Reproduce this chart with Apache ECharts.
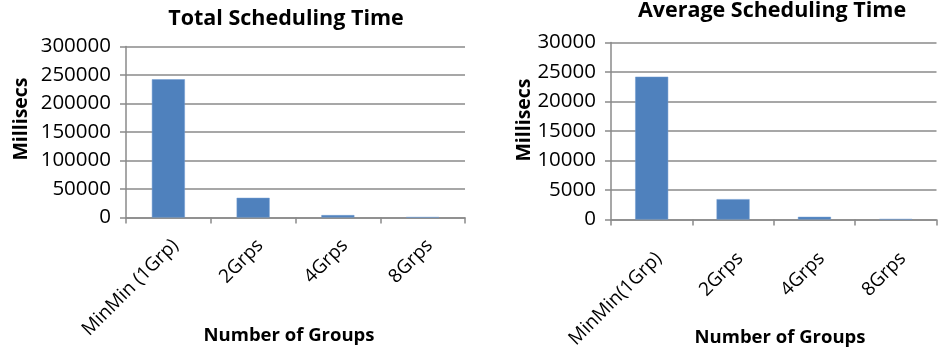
<!DOCTYPE html>
<html>
<head>
<meta charset="utf-8">
<script src="https://cdn.jsdelivr.net/npm/echarts@6/dist/echarts.min.js"></script>
<style>
  html, body { margin: 0; padding: 0; background: #ffffff; }
  #chart { width: 941px; height: 352px; }
</style>
</head>
<body>
<div id="chart"></div>
<script>
// Scheduling time per grouping strategy (milliseconds)
const totalCategories = ['MinMin (1Grp)', '2Grps', '4Grps', '8Grps'];
const avgCategories = ['MinMin(1Grp)', '2Grps', '4Grps', '8Grps'];
const totalTime = [242500, 34500, 4200, 500];
const averageTime = [24200, 3450, 450, 60];
const totalTicks = { min: 0, max: 300000, interval: 50000 };
const avgTicks = { min: 0, max: 30000, interval: 5000 };

const FONT = '"Open Sans", "Liberation Sans", sans-serif';
const GRID_COLOR = '#8a8a8a';
const BAR_COLOR = '#4f81bd';

function xAxisFor(gridIndex, cats, margin) {
  return {
    type: 'category',
    gridIndex: gridIndex,
    data: cats,
    boundaryGap: true,
    axisLine: { lineStyle: { color: GRID_COLOR, width: 1.5 } },
    axisTick: { show: true, length: 6, alignWithLabel: false, lineStyle: { color: GRID_COLOR, width: 1.5 } },
    axisLabel: {
      rotate: 45, fontFamily: FONT, fontSize: 19, color: '#000',
      margin: margin, interval: 0, align: 'right', verticalAlign: 'top', lineHeight: 20
    }
  };
}

function yAxisFor(gridIndex, ticks) {
  return {
    type: 'value',
    gridIndex: gridIndex,
    min: ticks.min,
    max: ticks.max,
    interval: ticks.interval,
    axisLine: { show: true, lineStyle: { color: GRID_COLOR, width: 1.5 } },
    axisTick: { show: true, length: 6, lineStyle: { color: GRID_COLOR, width: 1.5 } },
    splitLine: { show: true, lineStyle: { color: GRID_COLOR, width: 1.5 } },
    axisLabel: {
      fontFamily: FONT, fontSize: 20.5, color: '#000', margin: 15,
      formatter: (v) => String(v)
    }
  };
}

// Axis titles placed as free text
function axisName(text, x, y, vertical) {
  return {
    type: 'text',
    x: x, y: y,
    rotation: vertical ? Math.PI / 2 : 0,
    style: {
      text: text,
      fill: '#000',
      font: 'bold ' + (vertical ? 19.5 : 18.5) + 'px ' + FONT,
      textAlign: 'center',
      textVerticalAlign: 'middle'
    }
  };
}

const chart = echarts.init(document.getElementById('chart'), null, { renderer: 'canvas' });
chart.setOption({
  animation: false,
  backgroundColor: '#ffffff',
  title: [
    {
      text: 'Total Scheduling Time',
      left: 281, top: 3, textAlign: 'center',
      textStyle: { fontFamily: FONT, fontWeight: 'bold', fontSize: 21.5, color: '#000' }
    },
    {
      text: 'Average Scheduling Time',
      left: 767, top: -5, textAlign: 'center',
      textStyle: { fontFamily: FONT, fontWeight: 'bold', fontSize: 21.5, color: '#000' }
    }
  ],
  graphic: [
    axisName('Millisecs', 21, 119, true),
    axisName('Millisecs', 524.5, 120, true),
    axisName('Number of Groups', 289, 335.5, false),
    axisName('Number of Groups', 780, 337.5, false)
  ],
  grid: [
    { left: 126, right: 476, top: 46.5, bottom: 134.5, containLabel: false },
    { left: 611, right: 4.5, top: 42.5, bottom: 132.5, containLabel: false }
  ],
  xAxis: [xAxisFor(0, totalCategories, 18), xAxisFor(1, avgCategories, 29)],
  yAxis: [yAxisFor(0, totalTicks), yAxisFor(1, avgTicks)],
  series: [
    {
      type: 'bar', xAxisIndex: 0, yAxisIndex: 0, data: totalTime,
      barWidth: 33, itemStyle: { color: BAR_COLOR, borderColor: '#6f9bd1', borderWidth: 0.5 }
    },
    {
      type: 'bar', xAxisIndex: 1, yAxisIndex: 1, data: averageTime,
      barWidth: 33, itemStyle: { color: BAR_COLOR, borderColor: '#6f9bd1', borderWidth: 0.5 }
    }
  ]
});
</script>
</body>
</html>
